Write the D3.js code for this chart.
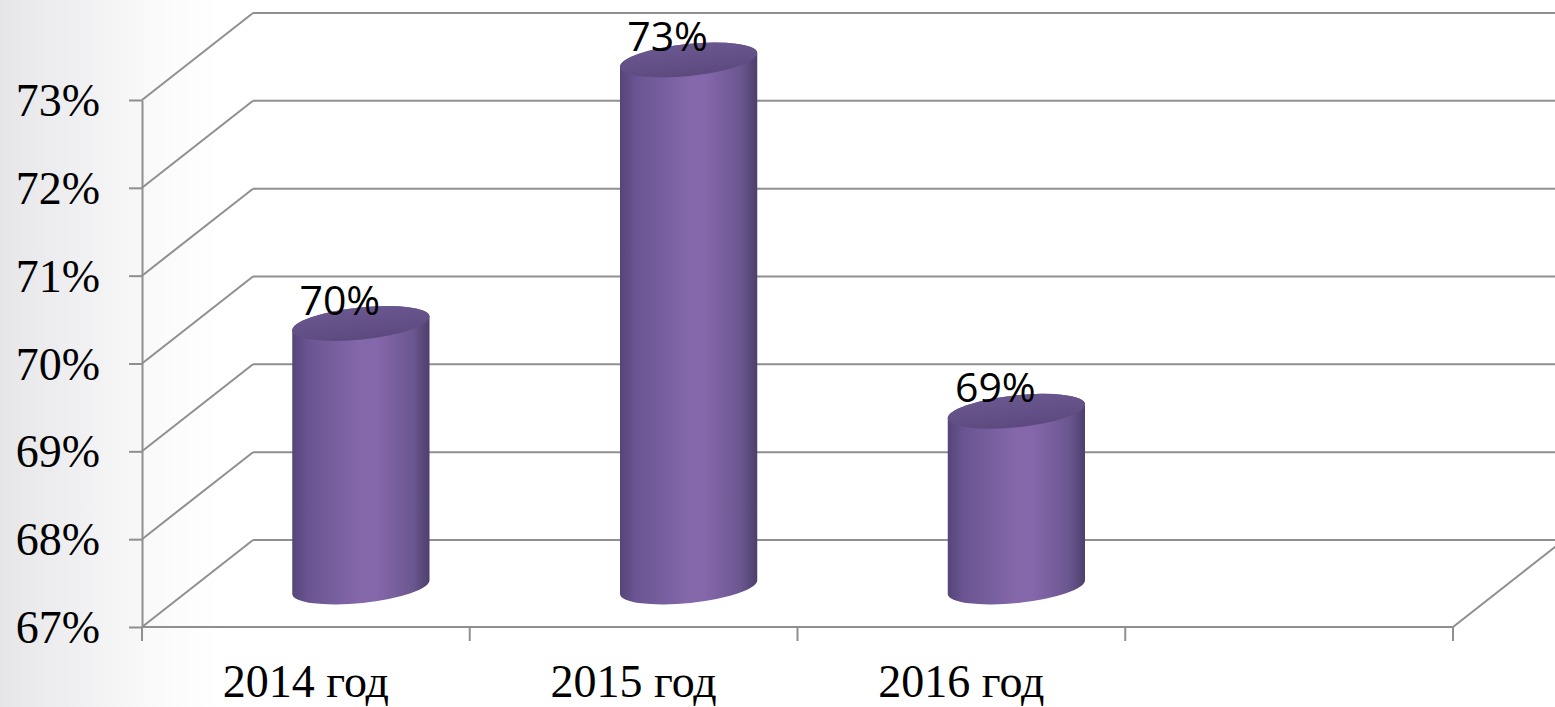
<!DOCTYPE html>
<html>
<head>
<meta charset="utf-8">
<script src="https://cdn.jsdelivr.net/npm/d3@7"></script>
<style>
  html, body { margin: 0; padding: 0; background: #fff; }
  svg { display: block; }
  .serif text { font-family: "Liberation Serif", "Times New Roman", serif; }
</style>
</head>
<body>
<svg class="chart"></svg>
<script>
const categories = ['2014 год', '2015 год', '2016 год', '']
const values = [0.70, 0.73, 0.69]
const yTicks = [0.67, 0.68, 0.69, 0.70, 0.71, 0.72, 0.73]

const W = 1555, H = 707
// floor / wall box of the 3d chart
const front = { left: 142, right: 1453, bottom: 627, top: 100 }
const depth = { dx: 111, dy: -87 }
const barDepth = { dx: 55, dy: -40 }
const gridColor = '#8f8f8f'
const serif = '"Liberation Serif", "Times New Roman", serif'

const svg = d3.select('.chart')
  .attr('width', W)
  .attr('height', H)

const defs = svg.append('defs')

// light grey wash at the left edge
const bg = defs.append('linearGradient').attr('id', 'bg')
bg.append('stop').attr('offset', 0).attr('stop-color', '#e6e6e9')
bg.append('stop').attr('offset', 0.05).attr('stop-color', '#f0f0f2')
bg.append('stop').attr('offset', 0.1).attr('stop-color', '#fafafa')
bg.append('stop').attr('offset', 0.14).attr('stop-color', '#ffffff')
svg.append('rect').attr('width', W).attr('height', H).attr('fill', 'url(#bg)')

const body = defs.append('linearGradient').attr('id', 'cyl')
;[[0, '#56457a'], [0.12, '#6a5592'], [0.5, '#8468aa'], [0.62, '#8567ab'], [0.88, '#6b5790'], [1, '#4d3f6c']]
  .forEach(s => body.append('stop').attr('offset', s[0]).attr('stop-color', s[1]))

const cap = defs.append('linearGradient').attr('id', 'cap')
  .attr('x1', 0).attr('y1', 0).attr('x2', 0).attr('y2', 1)
cap.append('stop').attr('offset', 0).attr('stop-color', '#6a578f')
cap.append('stop').attr('offset', 1).attr('stop-color', '#5c4a7f')

const x = d3.scaleBand()
  .domain(categories)
  .range([front.left, front.right])

const y = d3.scaleLinear()
  .domain([0.67, 0.73])
  .range([front.bottom, front.top])

const fmt = d3.format('.0%')

// walls: side diagonals + back gridlines
const grid = svg.append('g')
  .attr('stroke', gridColor)
  .attr('stroke-width', 2)
  .attr('fill', 'none')

grid.selectAll('.diag')
  .data(yTicks)
  .enter()
  .append('line')
  .attr('x1', front.left)
  .attr('y1', d => y(d))
  .attr('x2', front.left + depth.dx)
  .attr('y2', d => y(d) + depth.dy)

grid.selectAll('.back')
  .data(yTicks)
  .enter()
  .append('line')
  .attr('x1', front.left + depth.dx)
  .attr('y1', d => y(d) + depth.dy)
  .attr('x2', front.right + depth.dx)
  .attr('y2', d => y(d) + depth.dy)

// right floor edge
grid.append('line')
  .attr('x1', front.right)
  .attr('y1', y(0.67))
  .attr('x2', front.right + depth.dx)
  .attr('y2', y(0.67) + depth.dy)

// front floor edge + category ticks
grid.append('line')
  .attr('x1', front.left)
  .attr('x2', front.right)
  .attr('y1', y(0.67))
  .attr('y2', y(0.67))

const edges = categories.map(c => x(c)).concat([front.right])
grid.selectAll('.xtick')
  .data(edges)
  .enter()
  .append('line')
  .attr('x1', d => d)
  .attr('x2', d => d)
  .attr('y1', y(0.67))
  .attr('y2', y(0.67) + 14)

// y axis
const yAxis = d3.axisLeft(y)
  .tickValues(yTicks)
  .tickFormat(fmt)
  .tickSize(13)
  .tickSizeOuter(0)
  .tickPadding(29)

const ya = svg.append('g')
  .attr('class', 'serif')
  .attr('transform', `translate(${front.left}, 0)`)
  .call(yAxis)
  .attr('font-family', serif)
  .attr('font-size', 46)
ya.select('.domain').attr('stroke', gridColor).attr('stroke-width', 2)
ya.selectAll('.tick line').attr('stroke', gridColor).attr('stroke-width', 2)
ya.selectAll('.tick text')
  .attr('fill', '#000')
  .attr('dy', '0.34em')
  .attr('font-family', serif)

// x labels
svg.append('g')
  .attr('class', 'serif')
  .attr('font-family', serif)
  .attr('font-size', 46)
  .selectAll('text')
  .data(categories)
  .enter()
  .append('text')
  .attr('x', d => x(d) + x.bandwidth() / 2)
  .attr('y', 697)
  .attr('text-anchor', 'middle')
  .text(d => d)

// cylinders
const rx = 69, ry = 16, tilt = -6
const rad = tilt * Math.PI / 180
const ex = rx * Math.cos(rad), ey = rx * Math.sin(rad)

const bars = svg.selectAll('.bar')
  .data(values.map((v, i) => ({ name: categories[i], value: v })))
  .enter()
  .append('g')
  .attr('class', 'bar')

const cx = d => x(d.name) + x.bandwidth() / 2 + barDepth.dx
const yb = y(0.67) + barDepth.dy

bars.append('path')
  .attr('fill', 'url(#cyl)')
  .attr('d', d => {
    const c = cx(d), yt = y(d.value) + barDepth.dy
    return `M${c - ex},${yt - ey} L${c - ex},${yb - ey}` +
      ` A${rx},${ry} ${tilt} 0 0 ${c + ex},${yb + ey}` +
      ` L${c + ex},${yt + ey}` +
      ` A${rx},${ry} ${tilt} 0 0 ${c - ex},${yt - ey} Z`
  })

bars.append('ellipse')
  .attr('cx', d => cx(d))
  .attr('cy', d => y(d.value) + barDepth.dy)
  .attr('rx', rx)
  .attr('ry', ry)
  .attr('transform', d => `rotate(${tilt}, ${cx(d)}, ${y(d.value) + barDepth.dy})`)
  .attr('fill', 'url(#cap)')

bars.append('text')
  .attr('x', d => cx(d) - 21)
  .attr('y', d => y(d.value) + barDepth.dy - 9)
  .attr('text-anchor', 'middle')
  .style('font-family', '"Open Sans", "Liberation Sans", sans-serif')
  .style('font-size', '41px')
  .text(d => fmt(d.value))
</script>
</body>
</html>
